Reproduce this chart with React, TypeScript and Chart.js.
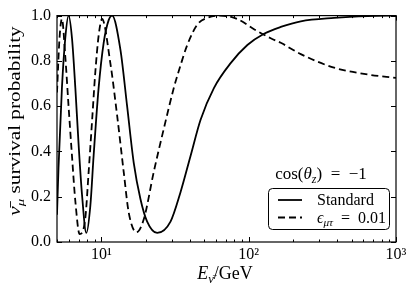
import React, { useEffect, useRef } from "react";
import { Chart, registerables } from "chart.js";
Chart.register(...registerables);

// ---- data ----
const energyStandard = [5.0, 5.12, 5.4, 5.69, 5.99, 6.32, 6.66, 7.01, 7.39, 7.91, 8.42, 8.86, 9.58, 10.37, 11.21, 11.83, 13.47, 14.96, 16.59, 18.42, 20.46, 23.93, 29.47, 34.46, 40.31, 47.16, 58.07, 75.45, 98.0, 127.1, 165.1, 225.8, 380, 642, 1000];
const probStandard = [0.12, 0.33, 0.68, 0.9, 1.0, 0.9, 0.68, 0.43, 0.21, 0.04, 0.16, 0.38, 0.68, 0.88, 0.98, 1.0, 0.85, 0.6, 0.35, 0.19, 0.09, 0.04, 0.09, 0.22, 0.38, 0.54, 0.68, 0.79, 0.87, 0.92, 0.95, 0.975, 0.99, 0.998, 1.0];

const energyNSI = [5.0, 5.2, 5.4, 5.69, 5.99, 6.32, 6.66, 7.12, 7.78, 8.2, 8.64, 9.1, 9.58, 10.11, 11.51, 12.79, 14.18, 15.34, 17.3, 19.4, 22.69, 26.53, 31.02, 34.46, 38.28, 44.77, 52.36, 64.49, 83.79, 108.7, 141.1, 165.1, 225.8, 380, 642, 1000];
const probNSI = [0.66, 0.9, 0.985, 0.82, 0.6, 0.38, 0.18, 0.035, 0.105, 0.31, 0.53, 0.75, 0.91, 0.985, 0.79, 0.56, 0.31, 0.13, 0.043, 0.1, 0.31, 0.5, 0.68, 0.78, 0.87, 0.96, 0.99, 1.0, 0.985, 0.94, 0.9, 0.88, 0.83, 0.77, 0.74, 0.725];

const xMajorTicks = [10, 100, 1000];
const xTickLabels = ["10¹", "10²", "10³"];
const xMinorTicks = [5, 6, 7, 8, 9, 20, 30, 40, 50, 60, 70, 80, 90, 200, 300, 400, 500, 600, 700, 800, 900];
const yTicks = [0, 0.2, 0.4, 0.6, 0.8, 1.0];
const yTickLabels = ["0.0", "0.2", "0.4", "0.6", "0.8", "1.0"];

type Run = { t: string; i?: boolean; sub?: boolean };
const legendTitle: Run[] = [{ t: "cos(" }, { t: "θ", i: true }, { t: "z", i: true, sub: true }, { t: ")\u2002=\u2002−1" }];
const seriesLabels: Run[][] = [
  [{ t: "Standard" }],
  [{ t: "ϵ", i: true }, { t: "μτ", i: true, sub: true }, { t: "\u2002=\u20020.01" }],
];
const xTitle: Run[] = [{ t: "E", i: true }, { t: "ν̄", i: true, sub: true }, { t: "/GeV" }];
const yTitle: Run[] = [{ t: "ν̄", i: true }, { t: "μ", i: true, sub: true }, { t: " survival probability" }];

const SERIF = '"Liberation Serif", "DejaVu Serif", serif';

function fontFor(r: Run, size: number) {
  const s = r.sub ? size * 0.7 : size;
  return `${r.i ? "italic " : ""}${s}px ${SERIF}`;
}
function richWidth(ctx: CanvasRenderingContext2D, runs: Run[], size: number) {
  let w = 0;
  for (const r of runs) {
    ctx.font = fontFor(r, size);
    w += ctx.measureText(r.t).width;
  }
  return w;
}
function drawRich(ctx: CanvasRenderingContext2D, runs: Run[], x: number, y: number, size: number, align: "left" | "center") {
  let cx = align === "center" ? x - richWidth(ctx, runs, size) / 2 : x;
  ctx.textAlign = "left";
  ctx.textBaseline = "alphabetic";
  for (const r of runs) {
    ctx.font = fontFor(r, size);
    ctx.fillText(r.t, cx, r.sub ? y + size * 0.22 : y);
    cx += ctx.measureText(r.t).width;
  }
}

const decor = {
  id: "decor",
  afterDatasetsDraw(chart: any) {
    const ctx: CanvasRenderingContext2D = chart.ctx;
    const { left, right, top, bottom } = chart.chartArea;
    const xs = chart.scales.x;
    const ys = chart.scales.y;
    ctx.save();
    ctx.strokeStyle = "#000";
    ctx.fillStyle = "#000";
    ctx.lineWidth = 1.2;
    ctx.strokeRect(left, top, right - left, bottom - top);
    ctx.lineWidth = 1;
    ctx.beginPath();
    for (const v of yTicks) {
      const p = Math.round(ys.getPixelForValue(v)) + 0.5;
      ctx.moveTo(left, p); ctx.lineTo(left + 5, p);
      ctx.moveTo(right, p); ctx.lineTo(right - 5, p);
    }
    for (const v of xMajorTicks) {
      const p = Math.round(xs.getPixelForValue(v)) + 0.5;
      ctx.moveTo(p, bottom); ctx.lineTo(p, bottom - 5);
      ctx.moveTo(p, top); ctx.lineTo(p, top + 5);
    }
    for (const v of xMinorTicks) {
      const p = Math.round(xs.getPixelForValue(v)) + 0.5;
      ctx.moveTo(p, bottom); ctx.lineTo(p, bottom - 2.5);
      ctx.moveTo(p, top); ctx.lineTo(p, top + 2.5);
    }
    ctx.stroke();

    // axis titles
    drawRich(ctx, xTitle, 225, 279, 18, "center");
    ctx.save();
    ctx.translate(20, 121);
    ctx.rotate(-Math.PI / 2);
    ctx.scale(1.33, 1);
    drawRich(ctx, yTitle, 0, 0, 16, "center");
    ctx.restore();

    // legend
    drawRich(ctx, legendTitle, 321, 179, 17, "center");
    ctx.lineWidth = 1;
    ctx.beginPath();
    (ctx as any).roundRect(268.5, 188.5, 121, 41, 4);
    ctx.fillStyle = "#fff";
    ctx.fill();
    ctx.stroke();
    ctx.fillStyle = "#000";
    const rows = [200, 217.5];
    const dashes = [[], [7, 4]];
    rows.forEach((ry, k) => {
      ctx.lineWidth = 1.8;
      ctx.setLineDash(dashes[k]);
      ctx.beginPath();
      ctx.moveTo(278, ry); ctx.lineTo(302, ry);
      ctx.stroke();
      ctx.setLineDash([]);
      drawRich(ctx, seriesLabels[k], 317, ry + 5, 16, "left");
    });
    ctx.restore();
  },
};

export default function App() {
  const ref = useRef<HTMLCanvasElement>(null);
  useEffect(() => {
    const chart = new Chart(ref.current!, {
      type: "line",
      data: {
        datasets: [
          {
            label: "Standard",
            data: energyStandard.map((e, i) => ({ x: e, y: probStandard[i] })),
            borderColor: "#000",
            borderWidth: 1.8,
            pointRadius: 0,
            cubicInterpolationMode: "monotone",
          },
          {
            label: "eps",
            data: energyNSI.map((e, i) => ({ x: e, y: probNSI[i] })),
            borderColor: "#000",
            borderWidth: 1.8,
            borderDash: [7, 4],
            pointRadius: 0,
            cubicInterpolationMode: "monotone",
          },
        ],
      },
      options: {
        animation: false,
        responsive: false,
        devicePixelRatio: 1,
        layout: { padding: { top: 15, right: 20, left: 0, bottom: 0 } },
        plugins: { legend: { display: false }, tooltip: { enabled: false } },
        scales: {
          x: {
            type: "logarithmic",
            min: 5,
            max: 1000,
            grid: { display: false, drawTicks: false },
            border: { display: false },
            afterBuildTicks: (s: any) => { s.ticks = xMajorTicks.map((value) => ({ value, major: true })); },
            afterFit: (s: any) => { s.height = 52; },
            ticks: {
              autoSkip: false,
              maxRotation: 0,
              padding: 3,
              color: "#000",
              font: { family: SERIF, size: 16 },
              callback: (_v: any, i: number) => xTickLabels[i],
            },
          },
          y: {
            type: "linear",
            min: 0,
            max: 1,
            grid: { display: false, drawTicks: false },
            border: { display: false },
            afterBuildTicks: (s: any) => { s.ticks = yTicks.map((value) => ({ value })); },
            afterFit: (s: any) => { s.width = 57; },
            ticks: {
              padding: 6,
              color: "#000",
              font: { family: SERIF, size: 16 },
              callback: (_v: any, i: number) => yTickLabels[i],
            },
          },
        },
      } as any,
      plugins: [decor],
    });
    return () => chart.destroy();
  }, []);
  return (
    <div style={{ position: "absolute", left: 0, top: 0, width: 416, height: 294, background: "#fff" }}>
      <canvas ref={ref} width={416} height={294} />
    </div>
  );
}
